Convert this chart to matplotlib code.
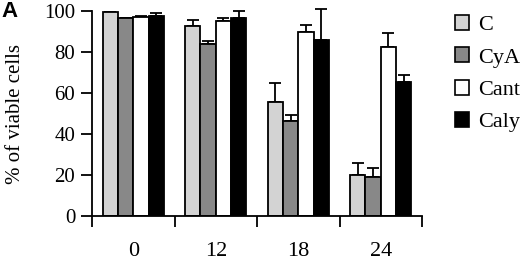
import numpy as np
import matplotlib
matplotlib.use('Agg')
from matplotlib import pyplot as plt
from matplotlib.patches import Patch

# data
hours = ['0', '12', '18', '24']
series = ['C', 'CyA', 'Cant', 'Caly']
colors = ['#d3d3d3', '#888888', '#ffffff', '#000000']
c_vals = [99.5, 92.5, 55.5, 20]
cya_vals = [96.5, 84, 46.5, 19]
cant_vals = [97, 95, 90, 82.5]
caly_vals = [97.5, 96.5, 86, 65.5]
c_err = [0, 3, 9.5, 6]
cya_err = [0, 1.5, 3, 4.5]
cant_err = [0.5, 1.5, 3, 7]
caly_err = [1.5, 3.5, 15, 3.5]

values = [c_vals, cya_vals, cant_vals, caly_vals]
errors = [c_err, cya_err, cant_err, caly_err]

plt.rcParams['font.family'] = ['Liberation Serif', 'DejaVu Serif']

fig = plt.figure(figsize=(5.2, 2.6), dpi=100)
ax = fig.add_axes([92 / 520, 1 - 216 / 260, 330 / 520, 205 / 260])

x = np.arange(len(hours))
w = 0.185
for i, (vals, errs) in enumerate(zip(values, errors)):
    pos = x + (i - 1.5) * w
    ax.bar(pos, vals, width=w, color=colors[i], edgecolor='black', linewidth=1.3, zorder=2)
    eb = ax.errorbar(pos, vals, yerr=[np.zeros(len(errs)), errs], fmt='none', ecolor='black',
                     elinewidth=1.3, capsize=4.5, capthick=1.3, zorder=1)
    for part in eb.get_children():
        part.set_clip_on(False)

ax.set_xlim(-0.5, 3.5)
ax.set_ylim(0, 100)
ax.set_yticks([0, 20, 40, 60, 80, 100])
ax.set_xticks(np.arange(-0.5, 4, 1))
ax.set_xticklabels([])
ax.set_xticks(x, minor=True)
ax.set_xticklabels(hours, minor=True)
ax.tick_params(axis='x', which='major', direction='out', length=8, width=1.3)
ax.tick_params(axis='x', which='minor', length=0, pad=19, labelsize=16)
ax.tick_params(axis='y', direction='out', length=8, width=1.3, labelsize=15, pad=4)
for side in ['top', 'right']:
    ax.spines[side].set_visible(False)
for side in ['left', 'bottom']:
    ax.spines[side].set_linewidth(1.3)
ax.set_ylabel('% of viable cells', fontsize=15, labelpad=14)

handles = [Patch(facecolor=c, edgecolor='black', linewidth=1.2) for c in colors]
fig.legend(handles, series, loc='upper left', bbox_to_anchor=(446 / 520, 1 - 6 / 260),
           frameon=False, fontsize=16, handlelength=0.65, handleheight=0.65,
           handletextpad=0.4, labelspacing=0.55, borderaxespad=0)

fig.text(0.002, 0.995, 'A', fontsize=16, fontweight='bold', family='Liberation Sans', va='top', ha='left')

fig.savefig('out.png', dpi=100)
